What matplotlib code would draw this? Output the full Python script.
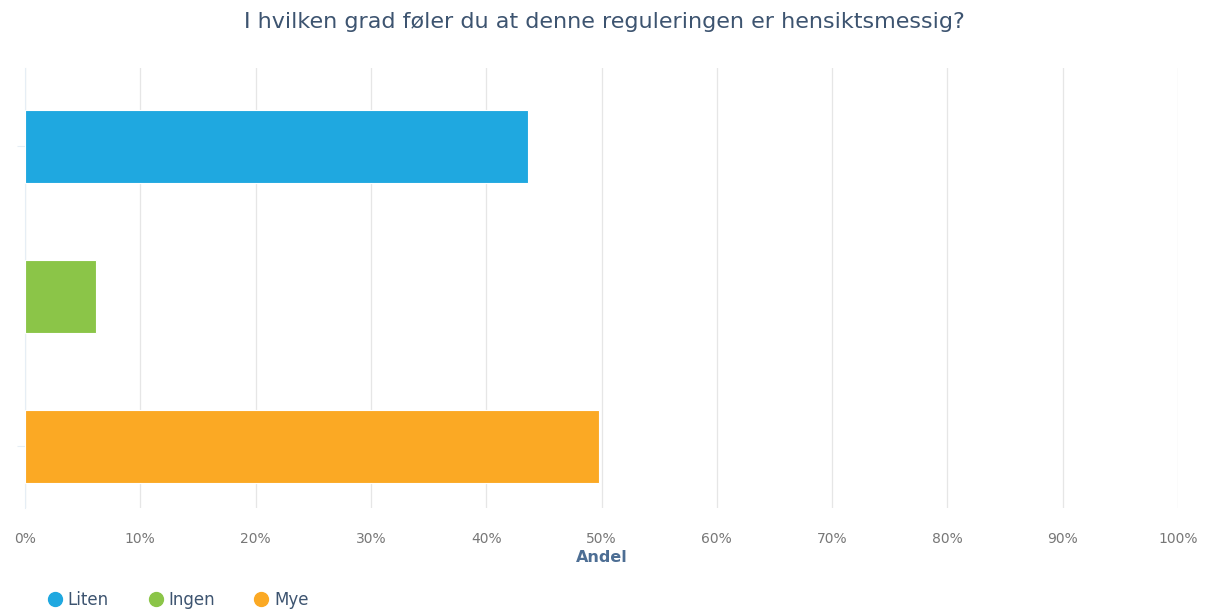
import matplotlib
matplotlib.use("Agg")
import matplotlib.pyplot as plt
from matplotlib.lines import Line2D

categories = ["Liten", "Ingen", "Mye"]
values = [43.6, 6.2, 49.8]
colors = ["#1fa8e0", "#8bc548", "#fba924"]
xticks = list(range(0, 101, 10))
xticklabels = [f"{t}%" for t in xticks]

fig = plt.figure(figsize=(12.08, 6.13), dpi=100)
ax = fig.add_axes([25/1208, 1-508/613, (1178-25)/1208, (508-68)/613])

pos = list(range(len(categories)))
ax.barh(pos, values, height=0.485, color=colors, edgecolor="white", linewidth=0.8, zorder=3)

ax.set_xlim(0, 100)
ax.set_ylim(2.41, -0.52)
ax.set_xticks(xticks)
ax.set_xticklabels(xticklabels, color="#777777", fontsize=10)
ax.tick_params(axis="x", length=0, pad=17)
ax.set_yticks([0, 2])
ax.set_yticklabels([])
ax.tick_params(axis="y", length=6, color="#e6eef5", width=0.8)
ax.grid(axis="x", color="#e6e6e6", linewidth=0.9, zorder=0)
for s in ["top", "right", "bottom"]:
    ax.spines[s].set_visible(False)
ax.spines["left"].set_color("#e6eef5")
ax.spines["left"].set_linewidth(0.8)

ax.set_xlabel("Andel", color="#4d6e94", fontsize=11.5, fontweight="bold", labelpad=3)

fig.text(0.5, 1-22/613, "I hvilken grad føler du at denne reguleringen er hensiktsmessig?",
         ha="center", va="center", fontsize=16, color="#3d5470")

handles = [Line2D([0], [0], marker="o", linestyle="", markersize=10, markerfacecolor=c,
                  markeredgecolor=c) for c in colors]
fig.legend(handles, categories, loc="center left", bbox_to_anchor=(32/1208, 1-600/613),
           ncol=3, frameon=False, fontsize=12, labelcolor="#3d5470",
           handletextpad=0.25, columnspacing=2.3, handlelength=1.0)

fig.savefig("out.png", dpi=100)
